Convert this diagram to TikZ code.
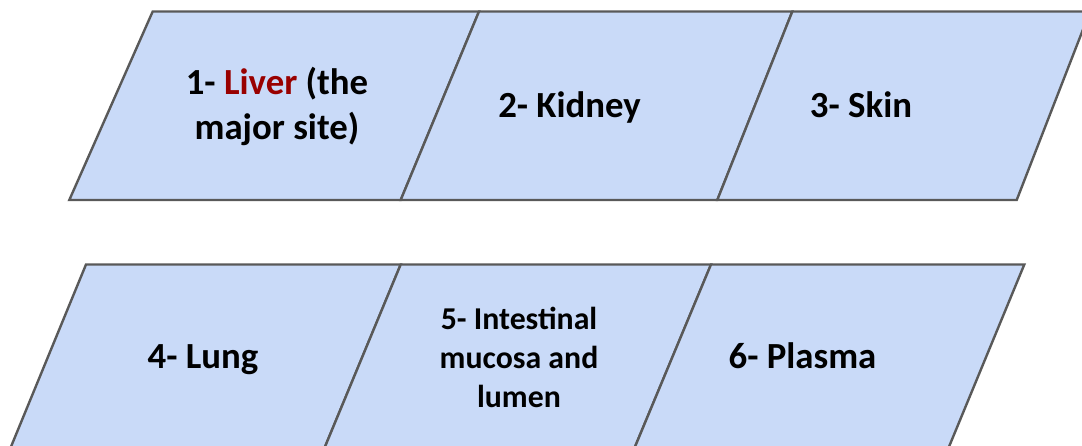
\documentclass[tikz,border=0pt]{standalone}
\usepackage{fontspec}
\setmainfont{Carlito}
\definecolor{cellfill}{HTML}{C9DAF8}
\definecolor{cellline}{HTML}{595959}
\definecolor{liverred}{HTML}{990000}
\tikzset{
  cell/.style={fill=cellfill, draw=cellline, line width=2.4pt, line join=miter},
  lbl/.style={anchor=base, align=center, inner sep=0pt, font=\fontsize{36.8}{45}\selectfont\bfseries},
  lblsmall/.style={anchor=base, align=center, inner sep=0pt, font=\fontsize{31.8}{39}\selectfont\bfseries}
}
\begin{document}
\begin{tikzpicture}[x=1pt,y=-1pt]
\useasboundingbox (0,0) rectangle (1082,445);
\clip (0,0) rectangle (1082,445);
% top row
\path[cell] (152.7,11.5) -- (479,11.5) -- (400.7,200) -- (69.3,200) -- cycle;
\path[cell] (479,11.5) -- (792.3,11.5) -- (717.3,200) -- (400.7,200) -- cycle;
\path[cell] (792.3,11.5) -- (1090,11.5) -- (1016.7,200) -- (717.3,200) -- cycle;
% bottom row
\path[cell] (86,264.5) -- (400.7,264.5) -- (322,454) -- (8,454) -- cycle;
\path[cell] (400.7,264.5) -- (711,264.5) -- (632,454) -- (322,454) -- cycle;
\path[cell] (711,264.5) -- (1024.3,264.5) -- (946,454) -- (632,454) -- cycle;
% labels
\node[lbl] (liver) at (277,139.5) {1- \textcolor{liverred}{Liver} (the\\major site)};
\node[lbl] (kidney) at (569.5,117) {2- Kidney};
\node[lbl] (skin) at (861,117) {3- Skin};
\node[lbl] (lung) at (203,368) {4- Lung};
\node[lblsmall] (intestine) at (519,407.5) {5- Intestinal\\mucosa and\\lumen};
\node[lbl] (plasma) at (802.5,368) {6- Plasma};
\end{tikzpicture}
\end{document}
